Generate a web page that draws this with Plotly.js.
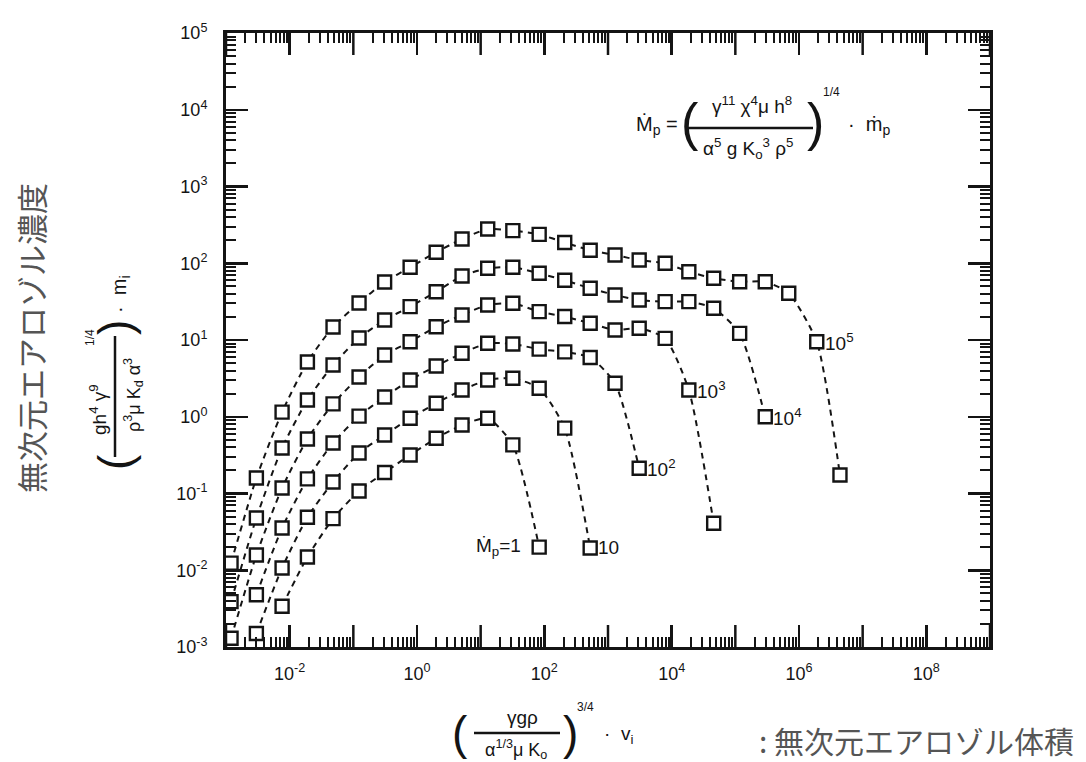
<!DOCTYPE html>
<html><head><meta charset="utf-8">
<script src="https://cdn.plot.ly/plotly-3.0.1.min.js"></script>
<style>html,body{margin:0;padding:0;background:#fff}#chart{width:1086px;height:762px}</style>
</head><body><div id="chart"></div>
<script>
// ---- data (x: dimensionless aerosol volume, y: dimensionless concentration) ----
const seriesNames = ['Mp=1', 'Mp=10', 'Mp=10^2', 'Mp=10^3', 'Mp=10^4', 'Mp=10^5'];
const seriesLabels = ['Ṁ<sub>p</sub>=1', '10', '10<sup>2</sup>', '10<sup>3</sup>', '10<sup>4</sup>', '10<sup>5</sup>'];

const x_mp1 = [0.0076, 0.019, 0.048, 0.123, 0.31, 0.78, 2.0, 5.1, 12.9, 32, 83];
const y_mp1 = [0.0034, 0.0149, 0.047, 0.108, 0.188, 0.318, 0.524, 0.78, 0.955, 0.43, 0.020];

const x_mp10 = [0.0030, 0.0076, 0.019, 0.048, 0.123, 0.31, 0.78, 2.0, 5.1, 12.9, 32, 83, 209, 525];
const y_mp10 = [0.0015, 0.0107, 0.049, 0.141, 0.337, 0.578, 0.955, 1.50, 2.23, 3.01, 3.17, 2.35, 0.71, 0.0195];

const x_mp100 = [0.0030, 0.0076, 0.019, 0.048, 0.123, 0.31, 0.78, 2.0, 5.1, 12.9, 32, 83, 209, 525, 1290, 3090];
const y_mp100 = [0.0048, 0.0355, 0.155, 0.455, 1.02, 1.81, 3.01, 4.58, 6.71, 9.06, 8.87, 7.6, 7.0, 5.92, 2.73, 0.213];

const x_mp1e3 = [0.0012, 0.0030, 0.0076, 0.019, 0.048, 0.123, 0.31, 0.78, 2.0, 5.1, 12.9, 32, 83, 209, 525, 1290, 3090, 7900, 18600, 45700];
const y_mp1e3 = [0.0013, 0.0158, 0.118, 0.513, 1.47, 3.30, 6.38, 9.5, 14.9, 21.2, 28.6, 30.1, 23.4, 20.2, 16.5, 13.5, 14.2, 10.5, 2.23, 0.041];

const x_mp1e4 = [0.0012, 0.0030, 0.0076, 0.019, 0.048, 0.123, 0.31, 0.78, 2.0, 5.1, 12.9, 32, 83, 209, 525, 1290, 3090, 7900, 18600, 45700, 117000, 295000];
const y_mp1e4 = [0.0039, 0.048, 0.392, 1.65, 4.72, 10.6, 18.2, 27.2, 42.6, 68.2, 86, 88.5, 74, 60, 47.2, 38.6, 33.2, 31.6, 31.6, 25.9, 12.2, 1.0];

const x_mp1e5 = [0.0012, 0.0030, 0.0076, 0.019, 0.048, 0.123, 0.31, 0.78, 2.0, 5.1, 12.9, 32, 83, 209, 525, 1290, 3090, 7900, 18600, 45700, 117000, 295000, 690000, 1.9e6, 4.4e6];
const y_mp1e5 = [0.0124, 0.159, 1.15, 5.17, 14.8, 30.3, 57, 88.5, 139, 207, 279, 266, 238, 186, 148, 128, 110, 100, 77.6, 63.7, 57.5, 57.5, 40.6, 9.5, 0.174];

// which point each curve label sits next to, counted from the end
const labelFromEnd = [1, 1, 1, 2, 1, 2];
const labelSide = ['left', 'right', 'right', 'right', 'right', 'right'];

const xTickExps = [-2, 0, 2, 4, 6, 8];
const xTickLabels = ['10<sup>-2</sup>', '10<sup>0</sup>', '10<sup>2</sup>', '10<sup>4</sup>', '10<sup>6</sup>', '10<sup>8</sup>'];
const yTickLabels = ['10<sup>-3</sup>', '10<sup>-2</sup>', '10<sup>-1</sup>', '10<sup>0</sup>', '10<sup>1</sup>', '10<sup>2</sup>', '10<sup>3</sup>', '10<sup>4</sup>', '10<sup>5</sup>'];

// ---- build ----
const xs = [x_mp1, x_mp10, x_mp100, x_mp1e3, x_mp1e4, x_mp1e5];
const ys = [y_mp1, y_mp10, y_mp100, y_mp1e3, y_mp1e4, y_mp1e5];

const INK = '#141414';
const traces = xs.map((x, i) => ({
  type: 'scatter', mode: 'lines+markers', name: seriesNames[i],
  x: x, y: ys[i],
  line: {color: INK, width: 2, dash: '6px,5px', shape: 'spline', smoothing: 0.6},
  marker: {symbol: 'square', size: 13, color: '#ffffff', line: {color: INK, width: 2.4}},
  hoverinfo: 'x+y'
}));

const X_MIN = -3, X_MAX = 9, Y_MIN = -3, Y_MAX = 5;
const xMajor = xTickExps.map(e => Math.pow(10, e));
const yMajor = [], xMinor = [], yMinor = [];
for (let e = Y_MIN; e <= Y_MAX; e++) yMajor.push(Math.pow(10, e));
for (let e = X_MIN; e < X_MAX; e++) for (let d = 2; d <= 9; d++) xMinor.push(d * Math.pow(10, e));
for (let e = Y_MIN; e < Y_MAX; e++) for (let d = 2; d <= 9; d++) yMinor.push(d * Math.pow(10, e));

// plot frame in pixels (for placing free text)
const L = 226, R = 990, T = 33, B = 647;
const PX = p => (p - L) / (R - L);
const PY = p => (B - p) / (B - T);
const TXT = 'Liberation Sans, Arial, sans-serif';
const JP = 'Noto Sans CJK JP, sans-serif';
function ann(px, py, text, size, extra) {
  return Object.assign({xref: 'paper', yref: 'paper', x: PX(px), y: PY(py), text: text,
    showarrow: false, xanchor: 'center', yanchor: 'middle',
    font: {family: TXT, size: size, color: INK}}, extra || {});
}

const annotations = [];
// curve labels
xs.forEach((x, i) => {
  const k = x.length - labelFromEnd[i];
  const left = labelSide[i] === 'left';
  annotations.push({
    xref: 'x', yref: 'y', x: Math.log10(x[k]), y: Math.log10(ys[i][k]),
    text: seriesLabels[i], showarrow: false,
    xanchor: left ? 'right' : 'left', yanchor: 'middle',
    xshift: left ? -16 : 6, yshift: 0,
    font: {family: TXT, size: 19, color: INK}
  });
});

// equation, upper right
const paren = s => ({font: {family: TXT, size: s, color: INK}});
annotations.push(ann(680, 126, 'Ṁ<sub>p</sub> =', 20, {xanchor: 'right'}));
annotations.push(ann(690, 122, '(', 52, paren(52)));
annotations.push(ann(752, 105, 'γ<sup>11</sup> χ<sup>4</sup>μ h<sup>8</sup>', 19));
annotations.push(ann(748, 148, 'α<sup>5</sup> g K<sub>o</sub><sup>3</sup> ρ<sup>5</sup>', 19));
annotations.push(ann(815, 122, ')', 52, paren(52)));
annotations.push(ann(831, 92, '1/4', 12));
annotations.push(ann(846, 126, '·  ṁ<sub>p</sub>', 20, {xanchor: 'left'}));

// y-axis formula (rotated)
annotations.push(ann(120, 294, '·  m<sub>i</sub>', 20, {textangle: -90}));
annotations.push(ann(115, 328, ')', 46, Object.assign({textangle: -90}, paren(46))));
annotations.push(ann(90, 338, '1/4', 12, {textangle: -90}));
annotations.push(ann(98, 410, 'gh<sup>4</sup> γ<sup>9</sup>', 19, {textangle: -90}));
annotations.push(ann(133, 395, 'ρ<sup>3</sup>μ K<sub>d</sub> α<sup>3</sup>', 18, {textangle: -90}));
annotations.push(ann(115, 462, '(', 46, Object.assign({textangle: -90}, paren(46))));
// Japanese y title
annotations.push(ann(30, 338, '無次元エアロゾル濃度', 31, {textangle: -90,
  font: {family: JP, size: 31, color: '#555'}}));

// x-axis formula
annotations.push(ann(460, 733, '(', 46, paren(46)));
annotations.push(ann(522, 717, 'γgρ', 19));
annotations.push(ann(516, 749, 'α<sup>1/3</sup>μ K<sub>o</sub>', 18));
annotations.push(ann(570, 733, ')', 46, paren(46)));
annotations.push(ann(585, 707, '3/4', 12));
annotations.push(ann(602, 735, '·  v<sub>i</sub>', 19, {xanchor: 'left'}));
// Japanese x title
annotations.push(ann(1076, 740, ': 無次元エアロゾル体積', 30, {xanchor: 'right',
  font: {family: JP, size: 30, color: '#555'}}));

const shapes = [
  {type: 'line', xref: 'paper', yref: 'paper', x0: PX(687), x1: PX(813), y0: PY(128), y1: PY(128), line: {color: INK, width: 2.5}},
  {type: 'line', xref: 'paper', yref: 'paper', x0: PX(115), x1: PX(115), y0: PY(336), y1: PY(457), line: {color: INK, width: 2.5}},
  {type: 'line', xref: 'paper', yref: 'paper', x0: PX(474), x1: PX(560), y0: PY(733), y1: PY(733), line: {color: INK, width: 2.5}}
];
// unlabelled (odd) decade ticks on the x axis, long like the labelled ones, bottom and top
const MAJLEN = 22;
for (let e = X_MIN; e <= X_MAX; e++) {
  if (xTickExps.indexOf(e) >= 0) continue;
  const xp = (e - X_MIN) / (X_MAX - X_MIN);
  shapes.push({type: 'line', xref: 'paper', yref: 'paper', x0: xp, x1: xp, y0: 0, y1: MAJLEN / (B - T), line: {color: INK, width: 2.5}});
  shapes.push({type: 'line', xref: 'paper', yref: 'paper', x0: xp, x1: xp, y0: 1, y1: 1 - MAJLEN / (B - T), line: {color: INK, width: 2.5}});
}

const axisCommon = {
  type: 'log', showline: true, linewidth: 3, linecolor: INK, mirror: 'ticks',
  ticks: 'inside', ticklen: MAJLEN, tickwidth: 2.5, tickcolor: INK,
  showgrid: false, zeroline: false, tickmode: 'array',
  tickfont: {family: TXT, size: 18, color: INK}
};

const layout = {
  width: 1086, height: 762,
  margin: {l: L, r: 1086 - R, t: T, b: 762 - B, pad: 0},
  paper_bgcolor: '#ffffff', plot_bgcolor: '#ffffff',
  showlegend: false,
  xaxis: Object.assign({}, axisCommon, {
    range: [X_MIN, X_MAX], tickvals: xMajor, ticktext: xTickLabels, ticklabelstandoff: 8,
    minor: {tickmode: 'array', tickvals: xMinor, ticks: 'inside', ticklen: 10, tickwidth: 2, tickcolor: INK}
  }),
  yaxis: Object.assign({}, axisCommon, {
    range: [Y_MIN, Y_MAX], tickvals: yMajor, ticktext: yTickLabels, ticklabelstandoff: 12,
    minor: {tickmode: 'array', tickvals: yMinor, ticks: 'inside', ticklen: 10, tickwidth: 2, tickcolor: INK}
  }),
  annotations: annotations,
  shapes: shapes
};

Plotly.newPlot('chart', traces, layout, {displayModeBar: false, staticPlot: true});
</script>
</body></html>
